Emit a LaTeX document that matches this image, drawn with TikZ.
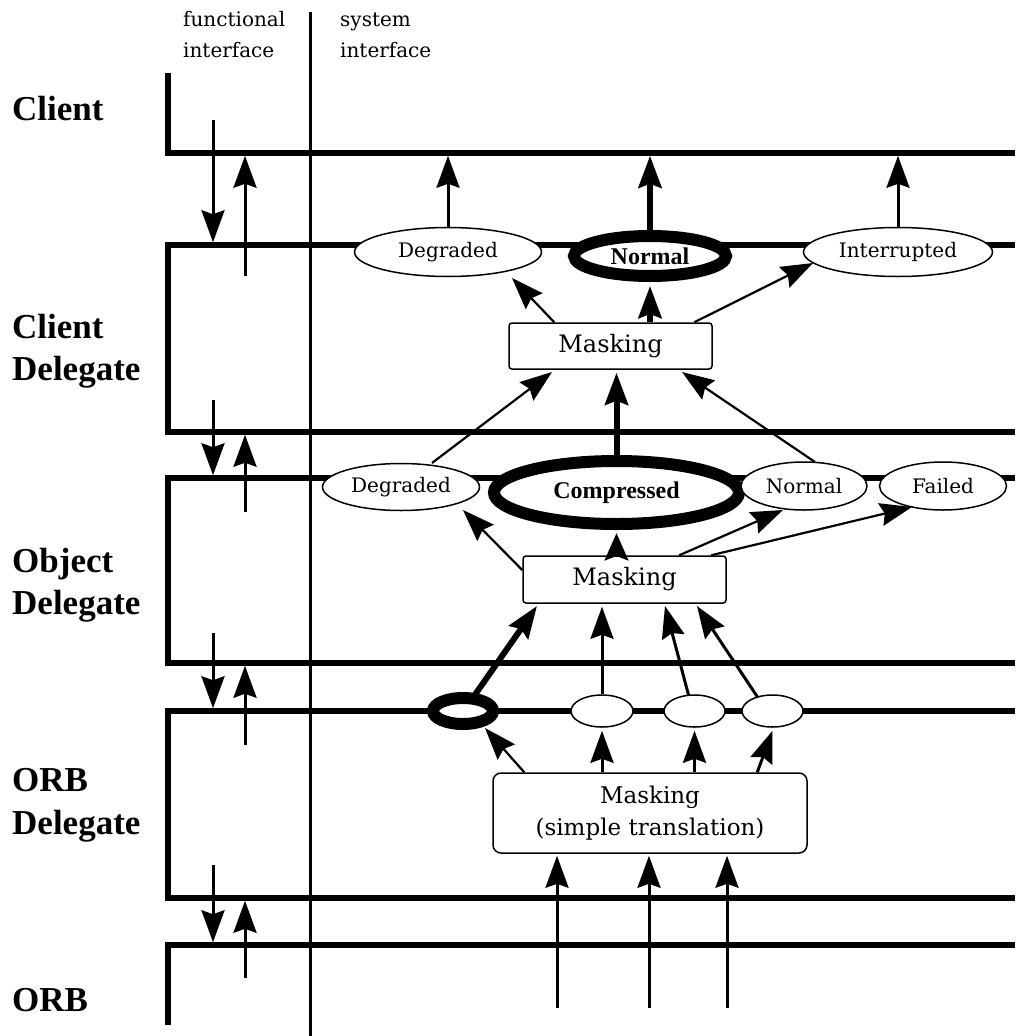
\documentclass[tikz,border=0pt]{standalone}
\usepackage{fontspec}
\setmainfont{DejaVu Serif}
\newfontfamily\lbf{Liberation Serif}
\usetikzlibrary{arrows.meta,shapes.geometric,calc}
\begin{document}
\begin{tikzpicture}[x=1pt,y=-1pt,
  heavy/.style={line width=5.5pt},
  vline/.style={line width=3pt},
  arr/.style={line width=2.2pt,-{Stealth[length=32pt,width=23pt,inset=4pt]}},
  marr/.style={arr,line width=3pt},
  tarr/.style={arr,line width=6pt},
  sarr/.style={line width=6pt,-{Stealth[length=27pt,width=23pt,inset=4pt]}},
  st/.style={ellipse,draw,fill=white,line width=1.5pt,inner sep=0pt,font=\fontsize{20}{24}\selectfont},
  ring/.style={ellipse,draw,fill=white,line width=12pt,inner sep=0pt,font=\lbf\bfseries\fontsize{24}{28}\selectfont},
  mask/.style={draw,rounded corners=3pt,fill=white,line width=1.5pt,inner sep=0pt,font=\fontsize{24}{28}\selectfont},
  lab/.style={anchor=base west,inner sep=0pt,font=\lbf\bfseries\fontsize{35}{40}\selectfont},
  hdr/.style={anchor=base west,inner sep=0pt,font=\fontsize{20}{24}\selectfont}]
\useasboundingbox (0,0) rectangle (1015,1036);

% headers
\node[hdr] (fi1) at (183,27) {functional};
\node[hdr] (fi2) at (183,57) {interface};
\node[hdr] (si1) at (340,27) {system};
\node[hdr] (si2) at (340,57) {interface};

% layer labels
\node[lab] (lC) at (12,120) {Client};
\node[lab] (lCD1) at (12,338) {Client};
\node[lab] (lCD2) at (12,380) {Delegate};
\node[lab] (lOD1) at (12,572) {Object};
\node[lab] (lOD2) at (12,614) {Delegate};
\node[lab] (lRD1) at (12,791) {ORB};
\node[lab] (lRD2) at (12,834) {Delegate};
\node[lab] (lR) at (12,1011) {ORB};

% layer boundaries
\coordinate (cliTop) at (168,73);
\coordinate (cli) at (168,153);
\coordinate (cdT) at (168,245);
\coordinate (cdB) at (168,432);
\coordinate (odT) at (168,478);
\coordinate (odB) at (168,663);
\coordinate (obT) at (168,711);
\coordinate (obB) at (168,898);
\coordinate (orT) at (168,945);
\coordinate (orBot) at (168,1025);
\draw[heavy] (cliTop) -- (cli) -- (1015,153);
\draw[heavy] (1015,245) -- (cdT) -- (cdB) -- (1015,432);
\draw[heavy] (1015,478) -- (odT) -- (odB) -- (1015,663);
\draw[heavy] (1015,711) -- (obT) -- (obB) -- (1015,898);
\draw[heavy] (1015,945) -- (orT) -- (orBot);

% interface divider
\draw[vline] (310,12) -- (310,1036);

% functional interface arrows
\coordinate (d1) at (213,120);
\coordinate (u1) at (245,276);
\coordinate (d2) at (213,400);
\coordinate (u2) at (245,512);
\coordinate (d3) at (213,633);
\coordinate (u3) at (245,745);
\coordinate (d4) at (213,865);
\coordinate (u4) at (245,978);
\draw[marr,shorten >=2.75pt] (d1) -- (d1 |- cdT);
\draw[marr,shorten >=2.75pt] (u1) -- (u1 |- cli);
\draw[marr,shorten >=2.75pt] (d2) -- (d2 |- odT);
\draw[marr,shorten >=2.75pt] (u2) -- (u2 |- cdB);
\draw[marr,shorten >=2.75pt] (d3) -- (d3 |- obT);
\draw[marr,shorten >=2.75pt] (u3) -- (u3 |- odB);
\draw[marr,shorten >=2.75pt] (d4) -- (d4 |- orT);
\draw[marr,shorten >=2.75pt] (u4) -- (u4 |- obB);

% client delegate
\node[st,minimum width=187pt,minimum height=49pt] (cdDeg) at (448,252) {Degraded};
\node[ring,minimum width=152pt,minimum height=40pt] (cdNor) at (650,256) {Normal};
\node[st,minimum width=189pt,minimum height=49pt] (cdInt) at (898,252) {Interrupted};
\node[mask,minimum width=203pt,minimum height=46pt] (m1) at (610.5,346) {Masking};

% object delegate
\node[st,minimum width=157pt,minimum height=47pt] (odDeg) at (401,487) {Degraded};
\node[ring,minimum width=245pt,minimum height=63pt] (odCom) at (616.5,492.5) {Compressed};
\node[st,minimum width=126pt,minimum height=48pt] (odNor) at (804,486) {Normal};
\node[st,minimum width=127pt,minimum height=48pt] (odFai) at (943,486) {Failed};
\node[mask,minimum width=203pt,minimum height=47pt] (m2) at (624.5,579.5) {Masking};

% ORB delegate
\node[ring,minimum width=60pt,minimum height=26pt] (ob1) at (463,711) {};
\node[st,minimum width=62pt,minimum height=32pt] (ob2) at (602,711) {};
\node[st,minimum width=61pt,minimum height=32pt] (ob3) at (694.5,711) {};
\node[st,minimum width=61pt,minimum height=32pt] (ob4) at (772.5,711) {};
\node[mask,rounded corners=8pt,minimum width=314pt,minimum height=80pt,align=center,font=\fontsize{23}{32}\selectfont] (m3) at (650,813) {Masking\\(simple translation)};

% client delegate outputs
\draw[marr,shorten >=2.75pt] (cdDeg.north) -- (cdDeg.north |- cli);
\draw[tarr,shorten >=2.75pt] (cdNor.north) -- (cdNor.north |- cli);
\draw[marr,shorten >=2.75pt] (cdInt.north) -- (cdInt.north |- cli);
\draw[arr] ($(m1.north west)+(46,0)$) -- ($(cdDeg.center)+(64,26)$);
\draw[tarr] (m1.north -| cdNor.south) -- ($(cdNor.south)+(0,4)$);
\draw[arr] ($(m1.north west)+(186,0)$) -- ($(cdInt.center)+(-85,11)$);

% into client masking
\draw[arr] ($(odDeg.center)+(31,-24)$) -- ($(m1.center)+(-58.5,26)$);
\draw[tarr] (odCom.north) -- ($(m1.south -| odCom.north)+(0,3)$);
\draw[arr] ($(odNor.center)+(11,-24)$) -- ($(m1.center)+(71.5,26)$);

% object masking outputs
\draw[arr] ($(m2.west)+(0,-9.5)$) -- ($(odDeg.center)+(62,23)$);
\draw[sarr] (m2.north -| odCom.south) -- ($(odCom.south)+(0,3)$);
\draw[arr] ($(m2.north west)+(157,0)$) -- ($(odNor.center)+(-21,24)$);
\draw[arr] ($(m2.north west)+(189,0)$) -- ($(odFai.center)+(-31,21)$);

% into object masking
\draw[tarr] ($(ob1.center)+(9,-12)$) -- ($(m2.center)+(-87.5,26.5)$);
\draw[marr] (ob2.north) -- ($(m2.south -| ob2.north)+(0,3)$);
\draw[marr] ($(ob3.center)+(-6,-16)$) -- ($(m2.center)+(40.5,26.5)$);
\draw[marr] ($(ob4.center)+(-15,-14)$) -- ($(m2.center)+(72.5,26.5)$);

% ORB masking outputs
\draw[arr] ($(m3.north west)+(32,0)$) -- ($(ob1.center)+(22,17)$);
\draw[marr] (m3.north -| ob2.south) -- ($(ob2.south)+(0,3)$);
\draw[marr] (m3.north -| ob3.south) -- ($(ob3.south)+(0,3)$);
\draw[marr] ($(m3.north west)+(265,0)$) -- ($(ob4.south)+(0,3)$);

% from ORB
\coordinate (b1) at (557,1008);
\coordinate (b2) at (649,1008);
\coordinate (b3) at (727,1008);
\draw[marr] (b1) -- ($(m3.south -| b1)+(0,2)$);
\draw[marr] (b2) -- ($(m3.south -| b2)+(0,2)$);
\draw[marr] (b3) -- ($(m3.south -| b3)+(0,2)$);
\end{tikzpicture}
\end{document}
